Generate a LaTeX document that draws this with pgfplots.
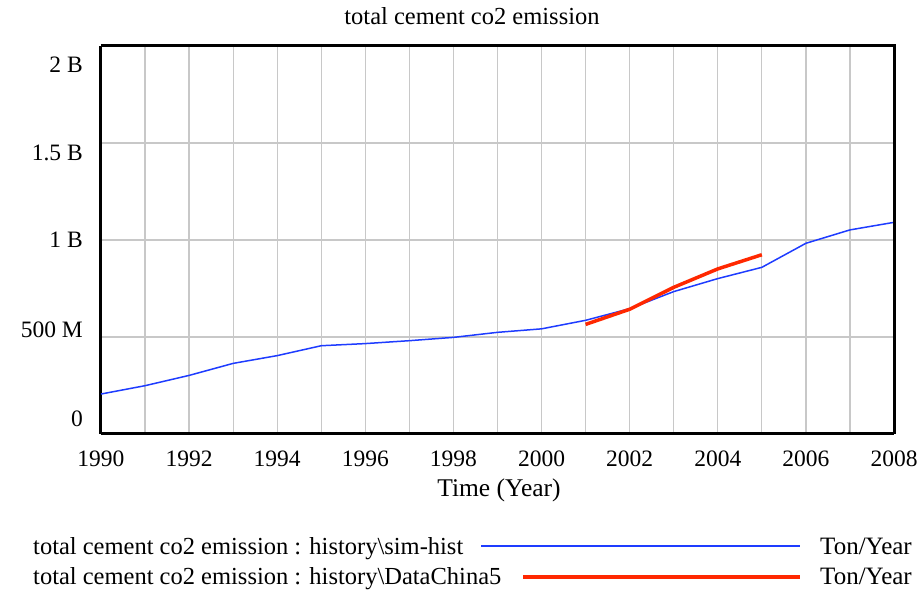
\documentclass[border=0pt]{standalone}
\usepackage{fontspec}
\setmainfont{Liberation Serif}
\usepackage{pgfplots}
\pgfplotsset{compat=1.18}
\definecolor{simblue}{RGB}{30,60,255}
\definecolor{datared}{RGB}{255,40,0}
\definecolor{gridgray}{RGB}{200,200,200}
\begin{document}
\begin{tikzpicture}[x=1pt,y=1pt]
\path (-101,-159) rectangle (822,434);
\begin{axis}[
  at={(0,0)}, anchor=south west,
  scale only axis, width=793pt, height=388pt,
  xmin=1990, xmax=2008, ymin=0, ymax=2000,
  axis line style={line width=3pt, black},
  axis x line*=bottom, axis y line*=left,
  xtick={1990,1992,...,2008},
  minor xtick={1991,1993,...,2007},
  ytick={77,536,1000,1448,1902},
  yticklabels={0,500 M,1 B,1.5 B,2 B},
  minor ytick={500,1000,1500},
  grid=both,
  major x grid style={gridgray, line width=1.3pt},
  minor grid style={gridgray, line width=1.3pt},
  major y grid style={draw=none},
  major tick length=0pt, minor tick length=0pt,
  /pgf/number format/assume math mode=true,
  xticklabel={\pgfmathprintnumber[1000 sep={}]{\tick}},
  tick label style={font=\fontsize{23.5}{26}\selectfont},
  xticklabel style={anchor=base, inner sep=0pt, yshift=-33pt},
  yticklabel style={anchor=east, inner sep=0pt, xshift=-18pt},
  clip=false,
]
\addplot[simblue, line width=1.5pt] coordinates {
(1990,206) (1991,249) (1992,302) (1993,364) (1994,404) (1995,455)
(1996,466) (1997,481) (1998,498) (1999,524) (2000,542) (2001,586)
(2002,646) (2003,734) (2004,801) (2005,859) (2006,983) (2007,1052) (2008,1091)
};
\addplot[datared, line width=3.5pt] coordinates {
(2001,565) (2002,643) (2003,756) (2004,851) (2005,924)
};
\draw[black, line width=3pt] (rel axis cs:0,1) -- (rel axis cs:1,1) -- (rel axis cs:1,0);
\end{axis}
\node[anchor=base, inner sep=0pt, font=\fontsize{24.5}{27}\selectfont] at (371,409) {total cement co2 emission};
\node[anchor=base, inner sep=0pt, font=\fontsize{25.5}{28}\selectfont] at (398,-63) {Time (Year)};
\node[anchor=base west, inner sep=0pt, font=\fontsize{24.5}{27}\selectfont] at (-68,-121) {total cement co2 emission : history\textbackslash sim-hist};
\node[anchor=base west, inner sep=0pt, font=\fontsize{24.5}{27}\selectfont] at (-68,-151) {total cement co2 emission : history\textbackslash DataChina5};
\draw[simblue, line width=1.5pt] (380,-112) -- (699,-112);
\draw[datared, line width=3.5pt] (422,-143) -- (699,-143);
\node[anchor=base west, inner sep=0pt, font=\fontsize{25}{27}\selectfont] at (719,-121) {Ton/Year};
\node[anchor=base west, inner sep=0pt, font=\fontsize{25}{27}\selectfont] at (719,-151) {Ton/Year};
\end{tikzpicture}
\end{document}
